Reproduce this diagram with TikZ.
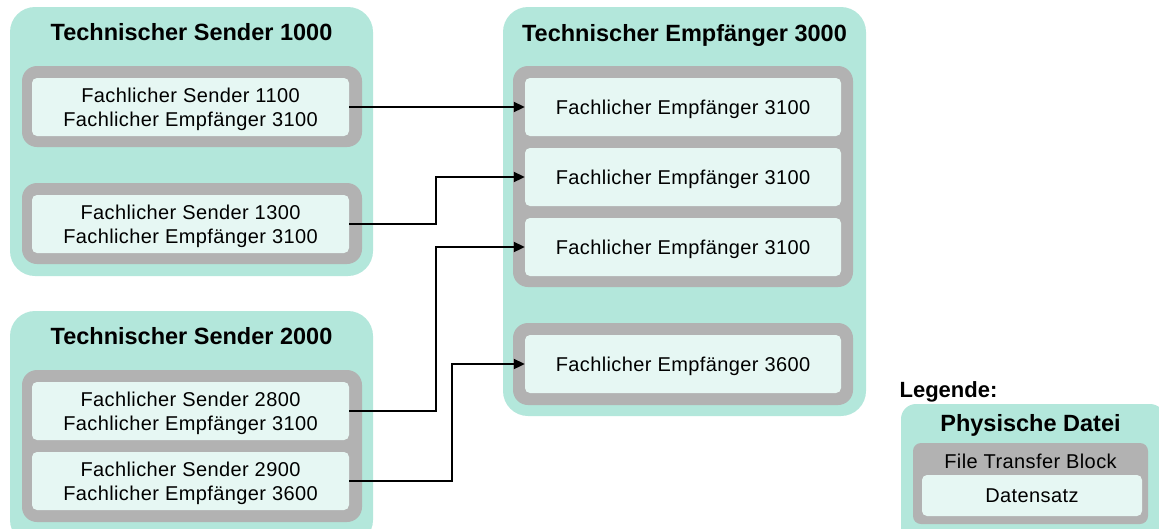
\documentclass[tikz,border=0pt]{standalone}
\usepackage{fontspec}
\setmainfont{Liberation Sans}
\usetikzlibrary{arrows.meta}
\definecolor{tealfill}{HTML}{B3E7DB}
\definecolor{blockgray}{HTML}{B2B2B2}
\definecolor{recfill}{HTML}{E6F7F3}
\tikzset{
	outerbox/.style={rectangle,rounded corners=25pt,fill=tealfill,inner sep=0pt},
	blockbox/.style={rectangle,rounded corners=15pt,fill=blockgray,inner sep=0pt},
	recbox/.style={rectangle,rounded corners=5pt,fill=recfill,inner sep=0pt,text depth=0pt,align=center,font=\fontsize{20}{24.5}\selectfont\addfontfeature{LetterSpace=2}},
	headline/.style={inner sep=0pt,font=\bfseries\fontsize{23.5}{28}\selectfont},
	flow/.style={line width=2pt,-{Triangle[length=11pt,width=10pt]}}
}
\begin{document}
\begin{tikzpicture}[x=1pt,y=-1pt]
		\useasboundingbox (0,0) rectangle (1159,528);
		% Technischer Sender 1000
		\node(ts1) at (191.5,141.5)[outerbox,minimum width=363pt,minimum height=269pt]{};
		\node(ts1t) at (191.5,32)[headline]{Technischer Sender 1000};
		\node(b11) at (192,106.5)[blockbox,minimum width=340pt,minimum height=81pt]{};
		\node(s11) at (190.5,107)[recbox,minimum width=317pt,minimum height=58pt]{Fachlicher Sender 1100\\Fachlicher Empfänger 3100};
		\node(b13) at (192,223.5)[blockbox,minimum width=340pt,minimum height=81pt]{};
		\node(s13) at (190.5,224)[recbox,minimum width=317pt,minimum height=58pt]{Fachlicher Sender 1300\\Fachlicher Empfänger 3100};
		
		% Technischer Sender 2000
		\node(ts2) at (191.5,428)[outerbox,minimum width=363pt,minimum height=234pt]{};
		\node(ts2t) at (191.5,336)[headline]{Technischer Sender 2000};
		\node(b2) at (192,446)[blockbox,minimum width=340pt,minimum height=152pt]{};
		\node(s28) at (190.5,411)[recbox,minimum width=317pt,minimum height=58pt]{Fachlicher Sender 2800\\Fachlicher Empfänger 3100};
		\node(s29) at (190.5,481)[recbox,minimum width=317pt,minimum height=58pt]{Fachlicher Sender 2900\\Fachlicher Empfänger 3600};
		
		% Technischer Empfaenger 3000
		\node(te3) at (684.5,211.5)[outerbox,minimum width=363pt,minimum height=409pt]{};
		\node(te3t) at (684.5,35)[headline]{Technischer Empfänger 3000};
		\node(b31) at (683,176.5)[blockbox,minimum width=340pt,minimum height=221pt]{};
		\node(e31) at (683,107)[recbox,minimum width=316pt,minimum height=58pt]{Fachlicher Empfänger 3100};
		\node(e32) at (683,177)[recbox,minimum width=316pt,minimum height=58pt]{Fachlicher Empfänger 3100};
		\node(e33) at (683,247)[recbox,minimum width=316pt,minimum height=58pt]{Fachlicher Empfänger 3100};
		\node(b36) at (683,364)[blockbox,minimum width=340pt,minimum height=82pt]{};
		\node(e36) at (683,364)[recbox,minimum width=316pt,minimum height=58pt]{Fachlicher Empfänger 3600};
		
		\draw[flow] (s11.east) -- (e31.west);
		\draw[flow] (s13.east) -| ([xshift=-89pt]e32.west) -- (e32.west);
		\draw[flow] (s28.east) -| ([xshift=-89pt]e33.west) -- (e33.west);
		\draw[flow] (s29.east) -| ([xshift=-73pt]e36.west) -- (e36.west);
		
		% Legende
		\node(lgh) at (948.5,392)[headline,font=\bfseries\fontsize{22}{26}\selectfont]{Legende:};
		\node(lg) at (1033,474.5)[outerbox,rounded corners=15pt,minimum width=264pt,minimum height=141pt]{};
		\node(lgt) at (1030.5,425)[headline]{Physische Datei};
		\node(lgb) at (1030.5,483.5)[blockbox,rounded corners=8pt,minimum width=235pt,minimum height=81pt]{};
		\node(lgbt) at (1030.5,461)[inner sep=0pt,font=\fontsize{20}{24}\selectfont\addfontfeature{LetterSpace=2}]{File Transfer Block};
		\node(lgs) at (1032,495.5)[recbox,minimum width=220pt,minimum height=41pt]{Datensatz};
	\end{tikzpicture}
\end{document}
